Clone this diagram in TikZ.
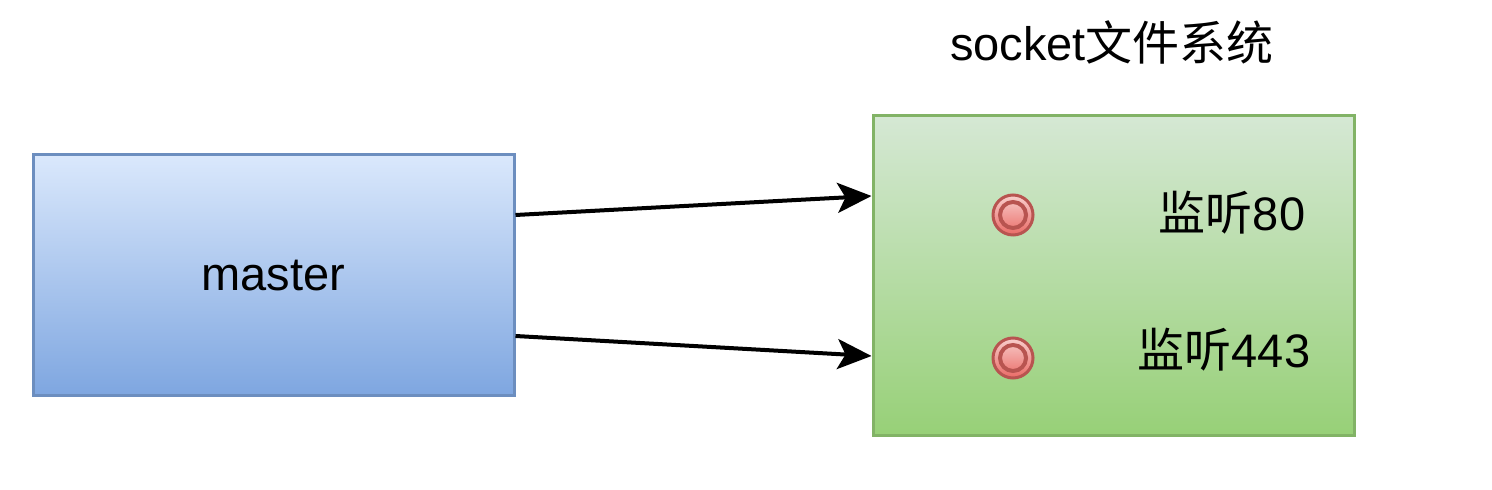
\documentclass[tikz,border=0pt]{standalone}
\usepackage{fontspec}
\setmainfont{Liberation Sans}
\newfontfamily\cjk{Noto Sans CJK SC}
\usepackage{tikz}
\usetikzlibrary{arrows.meta,positioning}
\definecolor{bluetop}{HTML}{DAE8FC}
\definecolor{bluebot}{HTML}{7EA6E0}
\definecolor{blueline}{HTML}{6C8EBF}
\definecolor{greentop}{HTML}{D5E8D4}
\definecolor{greenbot}{HTML}{97D077}
\definecolor{greenline}{HTML}{82B366}
\definecolor{redtop}{HTML}{F8CECC}
\definecolor{redbot}{HTML}{EA6B66}
\definecolor{redline}{HTML}{B85450}

\begin{document}
\begin{tikzpicture}[x=0.5pt,y=-0.5pt,line width=2pt,>={Stealth[length=17pt,width=15pt,inset=4pt]},font=\fontsize{23.5}{28}\selectfont]
 \tikzstyle{every box}=[draw,rectangle,line width=1.5pt,minimum width=240.5pt]
 \tikzstyle{port}=[circle,draw=redline,line width=1.5pt,minimum size=20pt,inner sep=0pt,
   top color=redtop,bottom color=redbot,
   path picture={\draw[redline,line width=2pt] (path picture bounding box.center) circle (6.5pt);}]

   \useasboundingbox (0,0) rectangle (1492,490);

   \node[every box,top color=bluetop,bottom color=bluebot,draw=blueline,minimum height=120.5pt] (master) at (273.5,275.5) {master};
   \node[every box,top color=greentop,bottom color=greenbot,draw=greenline,minimum height=160pt] (fs) at (1113.5,276) {};
   \node (title) at (1112,42) {socket{\cjk 文件系统}};

   \node[port] (p80) at (1013,215) {};
   \node[port] (p443) at (1013,358) {};
   \node (l80) at (1232,213) {{\cjk 监听}80};
   \node (l443) at (1224,350) {{\cjk 监听}443};

   \draw[->] ([yshift=30.25pt]master.east) -- ([yshift=40pt]fs.west);
   \draw[->] ([yshift=-30.25pt]master.east) -- ([yshift=-40pt]fs.west);

\end{tikzpicture}
\end{document}
